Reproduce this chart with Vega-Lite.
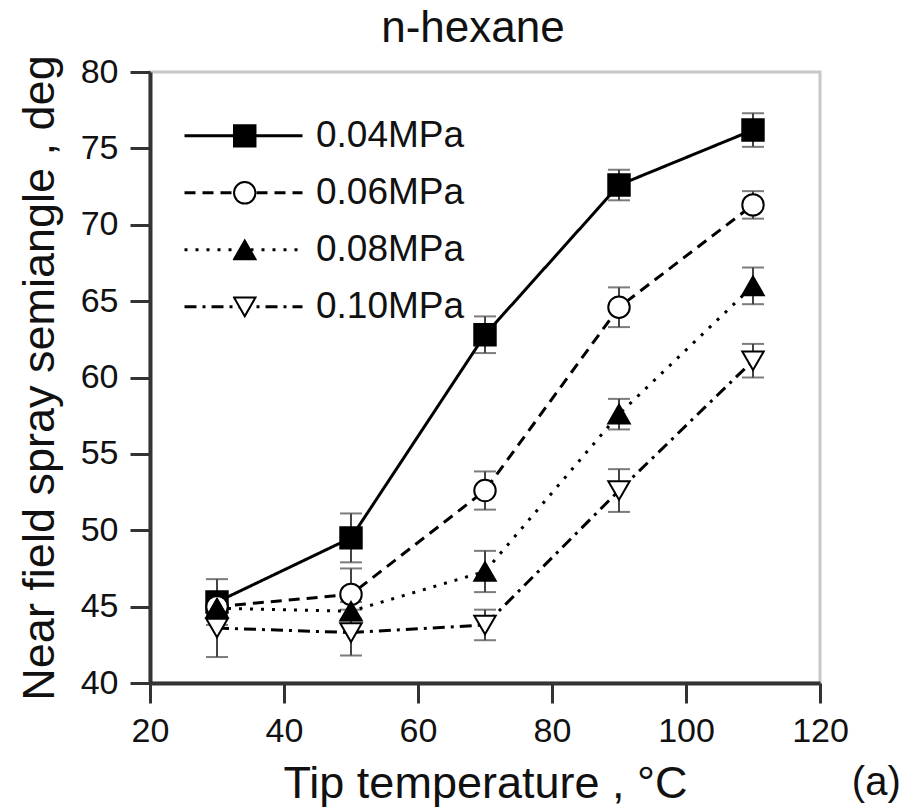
{
  "$schema": "https://vega.github.io/schema/vega-lite/v6.json",
  "width": 670,
  "height": 611,
  "autosize": {"type": "none"},
  "padding": {"left": 150, "top": 72, "right": 89, "bottom": 129},
  "background": "white",
  "data": {"values": [
    {"p": "0.04MPa", "t": 30, "a": 45.3, "lo": 43.8, "hi": 46.8},
    {"p": "0.04MPa", "t": 50, "a": 49.5, "lo": 47.9, "hi": 51.1},
    {"p": "0.04MPa", "t": 70, "a": 62.8, "lo": 61.6, "hi": 64.0},
    {"p": "0.04MPa", "t": 90, "a": 72.6, "lo": 71.6, "hi": 73.6},
    {"p": "0.04MPa", "t": 110, "a": 76.2, "lo": 75.1, "hi": 77.3},
    {"p": "0.06MPa", "t": 30, "a": 45.0, "lo": 44.5, "hi": 45.5},
    {"p": "0.06MPa", "t": 50, "a": 45.8, "lo": 44.2, "hi": 47.5},
    {"p": "0.06MPa", "t": 70, "a": 52.6, "lo": 51.35, "hi": 53.85},
    {"p": "0.06MPa", "t": 90, "a": 64.6, "lo": 63.3, "hi": 65.9},
    {"p": "0.06MPa", "t": 110, "a": 71.3, "lo": 70.4, "hi": 72.2},
    {"p": "0.08MPa", "t": 30, "a": 44.9, "lo": 44.4, "hi": 45.4},
    {"p": "0.08MPa", "t": 50, "a": 44.7, "lo": 44.1, "hi": 45.3},
    {"p": "0.08MPa", "t": 70, "a": 47.3, "lo": 45.95, "hi": 48.65},
    {"p": "0.08MPa", "t": 90, "a": 57.6, "lo": 56.6, "hi": 58.6},
    {"p": "0.08MPa", "t": 110, "a": 66.0, "lo": 64.8, "hi": 67.2},
    {"p": "0.10MPa", "t": 30, "a": 43.6, "lo": 41.7, "hi": 45.5},
    {"p": "0.10MPa", "t": 50, "a": 43.3, "lo": 41.8, "hi": 44.8},
    {"p": "0.10MPa", "t": 70, "a": 43.8, "lo": 42.8, "hi": 44.8},
    {"p": "0.10MPa", "t": 90, "a": 52.6, "lo": 51.2, "hi": 54.0},
    {"p": "0.10MPa", "t": 110, "a": 61.1, "lo": 60.0, "hi": 62.2}
  ]},
  "layer": [
    {"mark": {"type": "rule", "color": "#444", "strokeWidth": 2},
     "encoding": {
       "x": {"field": "t", "type": "quantitative", "scale": {"domain": [20, 120], "nice": false, "zero": false},
         "axis": {"title": "Tip temperature , °C", "values": [20, 40, 60, 80, 100, 120], "labelPadding": 11, "titlePadding": 13}},
       "y": {"field": "lo", "type": "quantitative", "scale": {"domain": [40, 80], "nice": false, "zero": false},
         "axis": {"title": "Near field spray semiangle , deg", "values": [40, 45, 50, 55, 60, 65, 70, 75, 80], "labelPadding": 12, "titlePadding": 18}},
       "y2": {"field": "hi"}}},
    {"mark": {"type": "tick", "orient": "horizontal", "color": "#444", "size": 22, "thickness": 2},
     "encoding": {"x": {"field": "t", "type": "quantitative"}, "y": {"field": "hi", "type": "quantitative"}}},
    {"mark": {"type": "tick", "orient": "horizontal", "color": "#444", "size": 22, "thickness": 2},
     "encoding": {"x": {"field": "t", "type": "quantitative"}, "y": {"field": "lo", "type": "quantitative"}}},
    {"mark": {"type": "line", "color": "black", "strokeWidth": 3},
     "encoding": {
       "x": {"field": "t", "type": "quantitative"}, "y": {"field": "a", "type": "quantitative"},
       "strokeDash": {"field": "p", "type": "nominal",
         "scale": {"range": [[1, 0], [11, 7], [3, 8], [12, 6, 3, 6]]},
         "legend": {"orient": "none", "legendX": 33, "legendY": 35.5, "title": null, "symbolType": "stroke", "symbolSize": 13924, "symbolStrokeWidth": 3, "symbolStrokeColor": "black", "clipHeight": 56.7, "rowPadding": 0, "padding": 0, "labelFontSize": 37, "labelFont": "Liberation Sans", "labelColor": "#111", "labelOffset": 12, "zindex": 0}}
     }},
    {"mark": {"type": "point", "stroke": "black", "strokeWidth": 2, "opacity": 1, "size": 460},
     "encoding": {
       "x": {"field": "t", "type": "quantitative"}, "y": {"field": "a", "type": "quantitative"},
       "shape": {"field": "p", "type": "nominal",
         "scale": {"domain": ["0.04MPa", "0.06MPa", "0.08MPa", "0.10MPa"], "range": ["square", "circle", "triangle-up", "triangle-down"]},
         "legend": {"orient": "none", "legendX": 82.75, "legendY": 35.5, "title": null, "symbolSize": 460, "symbolStrokeWidth": 2, "symbolStrokeColor": "black", "symbolOpacity": 1, "clipHeight": 56.7, "rowPadding": 0, "padding": 0, "labelFontSize": 1, "labelExpr": "''", "zindex": 1,
           "encode": {"symbols": {"update": {"stroke": {"value": "black"}, "strokeWidth": {"value": 2}, "opacity": {"value": 1}}}}}},
       "fill": {"field": "p", "type": "nominal",
         "scale": {"domain": ["0.04MPa", "0.06MPa", "0.08MPa", "0.10MPa"], "range": ["black", "white", "black", "white"]},
         "legend": {"orient": "none", "legendX": 82.75, "legendY": 35.5, "title": null, "symbolSize": 460, "symbolStrokeWidth": 2, "symbolStrokeColor": "black", "symbolOpacity": 1, "clipHeight": 56.7, "rowPadding": 0, "padding": 0, "labelFontSize": 1, "labelExpr": "''", "zindex": 1,
           "encode": {"symbols": {"update": {"stroke": {"value": "black"}, "strokeWidth": {"value": 2}, "opacity": {"value": 1}}}}}}
     }},
    {"data": {"values": [{"label": "n-hexane"}]},
     "mark": {"type": "text", "fontSize": 44, "font": "Liberation Sans", "color": "#111", "align": "center", "baseline": "alphabetic", "clip": false},
     "encoding": {"x": {"datum": 68.2}, "y": {"datum": 81.96}, "text": {"field": "label", "type": "nominal"}}},
    {"data": {"values": [{"label": "(a)"}]},
     "mark": {"type": "text", "fontSize": 40, "font": "Liberation Sans", "color": "#111", "align": "center", "baseline": "middle", "clip": false},
     "encoding": {"x": {"datum": 128.4}, "y": {"datum": 33.45}, "text": {"field": "label", "type": "nominal"}}}
  ],
  "config": {
    "view": {"stroke": "#c8c8c8", "strokeWidth": 3},
    "axis": {"grid": false, "domainColor": "#333", "domainWidth": 4, "tickColor": "#333", "tickWidth": 3, "tickSize": 20,
      "labelFontSize": 34, "labelFont": "Liberation Sans", "labelColor": "#111", "labelFlush": false, "labelOverlap": false, "labelBound": false,
      "titleFontSize": 45, "titleFont": "Liberation Sans", "titleFontWeight": "normal", "titleColor": "#111"}
  }
}
